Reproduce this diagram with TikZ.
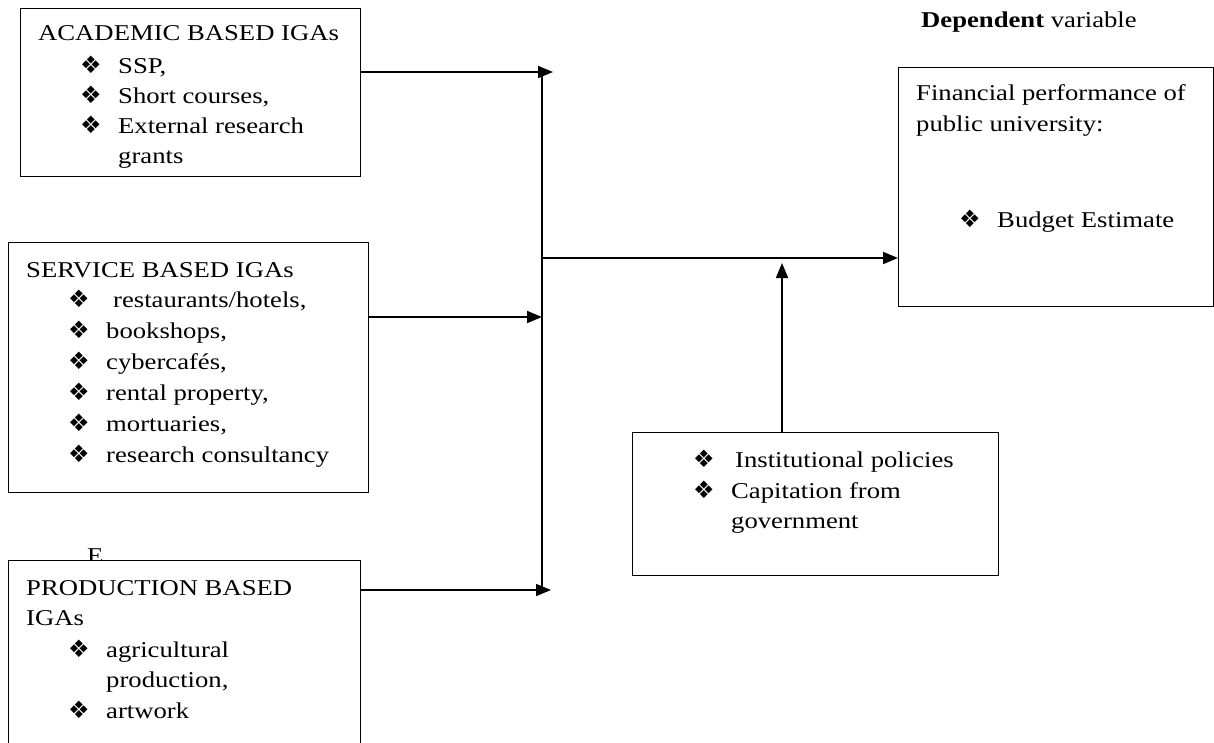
\documentclass[tikz,border=0pt]{standalone}
\usepackage{fontspec}
\setmainfont{Liberation Serif}[FakeStretch=1.18]
\newfontfamily\bulfont{DejaVu Sans}
\usetikzlibrary{arrows.meta}
\newcommand{\bul}{{\bulfont\fontsize{24}{24}\selectfont ❖}}
\newcommand{\itm}[1]{\makebox[38pt][l]{\bul}#1}
\tikzstyle{box}=[draw=black,line width=1.3pt,fill=white,inner sep=0pt,
  anchor=north west]
\tikzstyle{txt}=[anchor=base west,inner sep=0pt,
  font=\fontsize{22.6}{31}\selectfont]
\tikzstyle{link}=[line width=1.7pt,-{Triangle[length=15pt,width=12pt]}]

\begin{document}
\begin{tikzpicture}[x=1pt,y=-1pt]
    \fill[white] (0,0) rectangle (1214,742);
    \useasboundingbox (0,0) rectangle (1214,742);
    % independent variables
    \node[box,minimum width=340pt,minimum height=168pt] (acad) at (20,8) {};
    \node[box,minimum width=360pt,minimum height=250pt] (serv) at (8,242) {};
    \node[txt] (stray) at (87,563) {E};
    \node[box,minimum width=352pt,minimum height=210pt] (prod) at (8,560) {};
    % moderating and dependent
    \node[box,minimum width=366pt,minimum height=143pt] (inst) at (632,432) {};
    \node[box,minimum width=315pt,minimum height=239pt] (fin) at (898,67) {};

    \node[txt] (acadT) at (38,40) {ACADEMIC BASED IGAs};
    \node[txt] (acad1) at (80,73) {\itm{SSP,}};
    \node[txt] (acad2) at (80,103) {\itm{Short courses,}};
    \node[txt] (acad3) at (80,133) {\itm{External research}};
    \node[txt] (acad4) at (118,163) {grants};

    \node[txt] (servT) at (26,277) {SERVICE BASED IGAs};
    \node[txt] (serv1) at (68,307) {\itm{\hspace{7pt}restaurants/hotels,}};
    \node[txt] (serv2) at (68,338) {\itm{bookshops,}};
    \node[txt] (serv3) at (68,369) {\itm{cybercafés,}};
    \node[txt] (serv4) at (68,400) {\itm{rental property,}};
    \node[txt] (serv5) at (68,431) {\itm{mortuaries,}};
    \node[txt] (serv6) at (68,462) {\itm{research consultancy}};

    \node[txt] (prodT) at (26,595) {PRODUCTION BASED};
    \node[txt] (prodT2) at (26,625) {IGAs};
    \node[txt] (prod1) at (68,657) {\itm{agricultural}};
    \node[txt] (prod2) at (106,687) {production,};
    \node[txt] (prod3) at (68,718) {\itm{artwork}};

    \node[txt] (inst1) at (693,467) {\itm{\hspace{4pt}Institutional policies}};
    \node[txt] (inst2) at (693,498) {\itm{Capitation from}};
    \node[txt] (inst3) at (731,528) {government};

    \node[txt] (depT) at (921,27) {\textbf{Dependent} variable};
    \node[txt] (fin1) at (916,100) {Financial performance of};
    \node[txt] (fin2) at (916,131) {public university:};
    \node[txt] (fin3) at (959,227) {\itm{Budget Estimate}};

    % collecting line
    \coordinate (busT) at (542,70);
    \coordinate (busB) at (542,591);
    \coordinate (busM) at (542,258);
    \coordinate (tipA) at (553,72);
    \coordinate (tipS) at (542,317);
    \coordinate (tipP) at (551,590);
    \coordinate (tipI) at (782,263);
    \draw[line width=1.7pt] (busT) -- (busB);
    \draw[link] (acad.east |- tipA) -- (tipA);
    \draw[link] (serv.east |- tipS) -- (tipS);
    \draw[link] (prod.east |- tipP) -- (tipP);
    \draw[link] (busM) -- (busM -| fin.west);
    \draw[link] (inst.north -| tipI) -- (tipI);
\end{tikzpicture}
\end{document}
